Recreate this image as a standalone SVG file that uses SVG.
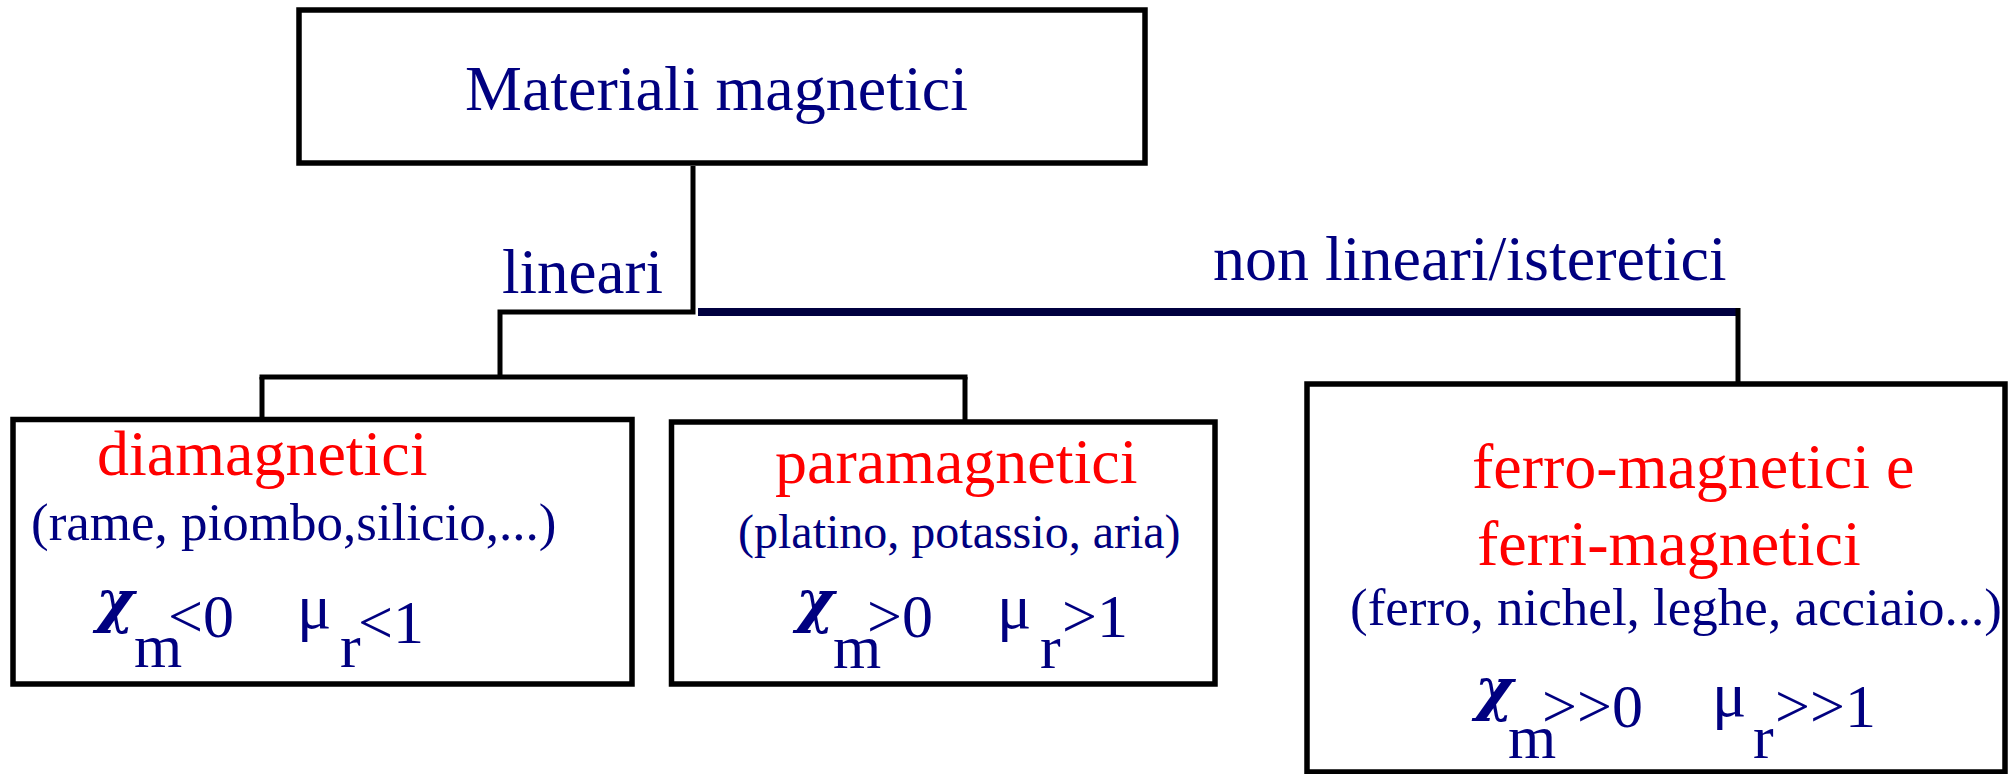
<svg xmlns="http://www.w3.org/2000/svg" width="2009" height="774" viewBox="0 0 2009 774">
<style>
.box{fill:#fff;stroke:#000;stroke-width:5.5}
.t{font-family:"Liberation Serif","Times New Roman",serif;fill:#000080}
.red{fill:#ff0000}
.conn{fill:none;stroke:#000;stroke-width:5}
.navy{fill:none;stroke:#000040;stroke-width:8}
.chi{font-family:"DejaVu Serif",serif;font-style:italic;font-weight:bold;fill:#000080}
</style>
<rect width="2009" height="774" fill="#fff"/>
<g id="connectors">
<polyline class="conn" points="693,166 693,312 500,312 500,377"/>
<line class="conn" x1="259.5" y1="377" x2="967.5" y2="377"/>
<line class="conn" x1="262" y1="377" x2="262" y2="418"/>
<line class="conn" x1="965" y1="377" x2="965" y2="421"/>
<line class="navy" x1="698" y1="312" x2="1738" y2="312"/>
<line class="conn" x1="1738" y1="308" x2="1738" y2="383"/>
<text class="t" x="502" y="293" font-size="63">lineari</text>
<text class="t" x="1213" y="280" font-size="64">non lineari/isteretici</text>
</g>
<g id="root">
<rect class="box" x="299" y="10" width="846" height="153"/>
<text class="t" x="465" y="110" font-size="64">Materiali magnetici</text>
</g>
<g id="diamagnetici">
<rect class="box" x="13" y="419.5" width="619" height="264.5"/>
<text class="t red" x="97" y="475" font-size="64">diamagnetici</text>
<text class="t" x="31" y="540" font-size="53">(rame, piombo,silicio,...)</text>
<text class="chi" x="96" y="621" font-size="58">χ</text>
<text class="t" x="134" y="667" font-size="62">m</text>
<text class="t" x="168" y="637" font-size="62">&lt;0</text>
<text class="t" x="297" y="628" font-size="64">μ</text>
<text class="t" x="340" y="667" font-size="62">r</text>
<text class="t" x="358" y="643" font-size="62">&lt;1</text>
</g>
<g id="paramagnetici">
<rect class="box" x="671.5" y="422" width="543.5" height="262"/>
<text class="t red" x="775" y="483" font-size="64">paramagnetici</text>
<text class="t" x="738" y="548" font-size="48">(platino, potassio, aria)</text>
<text class="chi" x="796" y="621" font-size="58">χ</text>
<text class="t" x="833" y="668" font-size="62">m</text>
<text class="t" x="867" y="637" font-size="62">&gt;0</text>
<text class="t" x="997" y="628" font-size="64">μ</text>
<text class="t" x="1040" y="668" font-size="62">r</text>
<text class="t" x="1062" y="637" font-size="62">&gt;1</text>
</g>
<g id="ferromagnetici">
<rect class="box" x="1307" y="384" width="698" height="388"/>
<text class="t red" x="1472" y="488" font-size="64">ferro-magnetici e</text>
<text class="t red" x="1477" y="565" font-size="64">ferri-magnetici</text>
<text class="t" x="1350" y="625" font-size="53">(ferro, nichel, leghe, acciaio...)</text>
<text class="chi" x="1475" y="709" font-size="58">χ</text>
<text class="t" x="1508" y="758" font-size="62">m</text>
<text class="t" x="1542" y="727" font-size="62">&gt;&gt;0</text>
<text class="t" x="1712" y="716" font-size="64">μ</text>
<text class="t" x="1753" y="758" font-size="62">r</text>
<text class="t" x="1775" y="727" font-size="62">&gt;&gt;1</text>
</g>
</svg>
